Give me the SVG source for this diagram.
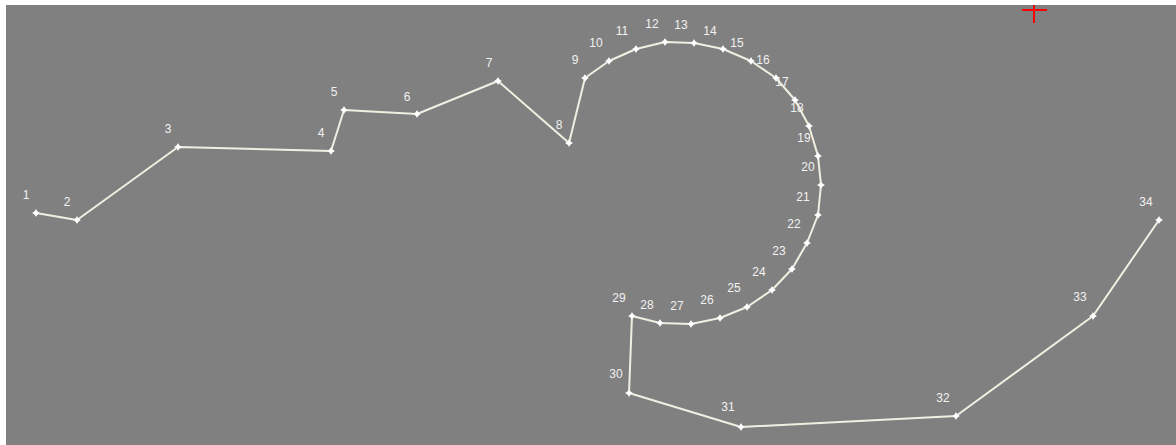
<svg xmlns="http://www.w3.org/2000/svg" width="1176" height="445" viewBox="0 0 1176 445">
<style>
.lbl{font-family:"Liberation Sans",Arial,sans-serif;font-size:12px;fill:#f2f2f2;text-anchor:middle}
.edge{fill:none;stroke:#f0f0e2;stroke-width:2;stroke-linejoin:round;stroke-linecap:round}
</style>
<defs>
<g id="pt"><path d="M0,-3 L3,0 L0,3 L-3,0 Z" fill="#ffffff" stroke="#e8e8e8" stroke-width="0.8"/><path d="M-3.5,0 H3.5 M0,-3.5 V3.5" stroke="#ffffff" stroke-width="1"/></g>
</defs>
<rect x="0" y="0" width="1176" height="445" fill="#ffffff"/>
<rect x="6" y="5" width="1170" height="440" fill="#808080"/>
<g id="connectors">
<polyline class="edge" points="36,213 77,220 178,147 331,151 344,110 417,114 498,81 569,143 585,78 609,61 636,49 665,42 694,43 723,49 751,61 776,78 795,100 809,126 818,156 821,185 818,215 807,243 792,269 772,290 747,307 720,318 691,324 660,323 632,316 629,393 741,427 956,416 1093,316 1159,220"/>
</g>
<g id="n1"><use href="#pt" x="36" y="213"/><text class="lbl" x="26" y="199">1</text></g>
<g id="n2"><use href="#pt" x="77" y="220"/><text class="lbl" x="67" y="206">2</text></g>
<g id="n3"><use href="#pt" x="178" y="147"/><text class="lbl" x="168" y="133">3</text></g>
<g id="n4"><use href="#pt" x="331" y="151"/><text class="lbl" x="321" y="137">4</text></g>
<g id="n5"><use href="#pt" x="344" y="110"/><text class="lbl" x="334" y="96">5</text></g>
<g id="n6"><use href="#pt" x="417" y="114"/><text class="lbl" x="407" y="101">6</text></g>
<g id="n7"><use href="#pt" x="498" y="81"/><text class="lbl" x="489" y="67">7</text></g>
<g id="n8"><use href="#pt" x="569" y="143"/><text class="lbl" x="559" y="129">8</text></g>
<g id="n9"><use href="#pt" x="585" y="78"/><text class="lbl" x="575" y="64">9</text></g>
<g id="n10"><use href="#pt" x="609" y="61"/><text class="lbl" x="596" y="47">10</text></g>
<g id="n11"><use href="#pt" x="636" y="49"/><text class="lbl" x="622" y="35">11</text></g>
<g id="n12"><use href="#pt" x="665" y="42"/><text class="lbl" x="652" y="28">12</text></g>
<g id="n13"><use href="#pt" x="694" y="43"/><text class="lbl" x="681" y="29">13</text></g>
<g id="n14"><use href="#pt" x="723" y="49"/><text class="lbl" x="710" y="35">14</text></g>
<g id="n15"><use href="#pt" x="751" y="61"/><text class="lbl" x="737" y="47">15</text></g>
<g id="n16"><use href="#pt" x="776" y="78"/><text class="lbl" x="763" y="64">16</text></g>
<g id="n17"><use href="#pt" x="795" y="100"/><text class="lbl" x="782" y="86">17</text></g>
<g id="n18"><use href="#pt" x="809" y="126"/><text class="lbl" x="797" y="112">18</text></g>
<g id="n19"><use href="#pt" x="818" y="156"/><text class="lbl" x="804" y="142">19</text></g>
<g id="n20"><use href="#pt" x="821" y="185"/><text class="lbl" x="808" y="171">20</text></g>
<g id="n21"><use href="#pt" x="818" y="215"/><text class="lbl" x="803" y="201">21</text></g>
<g id="n22"><use href="#pt" x="807" y="243"/><text class="lbl" x="794" y="228">22</text></g>
<g id="n23"><use href="#pt" x="792" y="269"/><text class="lbl" x="779" y="255">23</text></g>
<g id="n24"><use href="#pt" x="772" y="290"/><text class="lbl" x="759" y="276">24</text></g>
<g id="n25"><use href="#pt" x="747" y="307"/><text class="lbl" x="734" y="292">25</text></g>
<g id="n26"><use href="#pt" x="720" y="318"/><text class="lbl" x="707" y="304">26</text></g>
<g id="n27"><use href="#pt" x="691" y="324"/><text class="lbl" x="677" y="310">27</text></g>
<g id="n28"><use href="#pt" x="660" y="323"/><text class="lbl" x="647" y="309">28</text></g>
<g id="n29"><use href="#pt" x="632" y="316"/><text class="lbl" x="619" y="302">29</text></g>
<g id="n30"><use href="#pt" x="629" y="393"/><text class="lbl" x="616" y="378">30</text></g>
<g id="n31"><use href="#pt" x="741" y="427"/><text class="lbl" x="728" y="411">31</text></g>
<g id="n32"><use href="#pt" x="956" y="416"/><text class="lbl" x="943" y="402">32</text></g>
<g id="n33"><use href="#pt" x="1093" y="316"/><text class="lbl" x="1080" y="301">33</text></g>
<g id="n34"><use href="#pt" x="1159" y="220"/><text class="lbl" x="1146" y="206">34</text></g>
<g id="cursor"><path d="M1022,10 H1047 M1034,5 V23" stroke="#ff0000" stroke-width="2" fill="none"/></g>
</svg>
